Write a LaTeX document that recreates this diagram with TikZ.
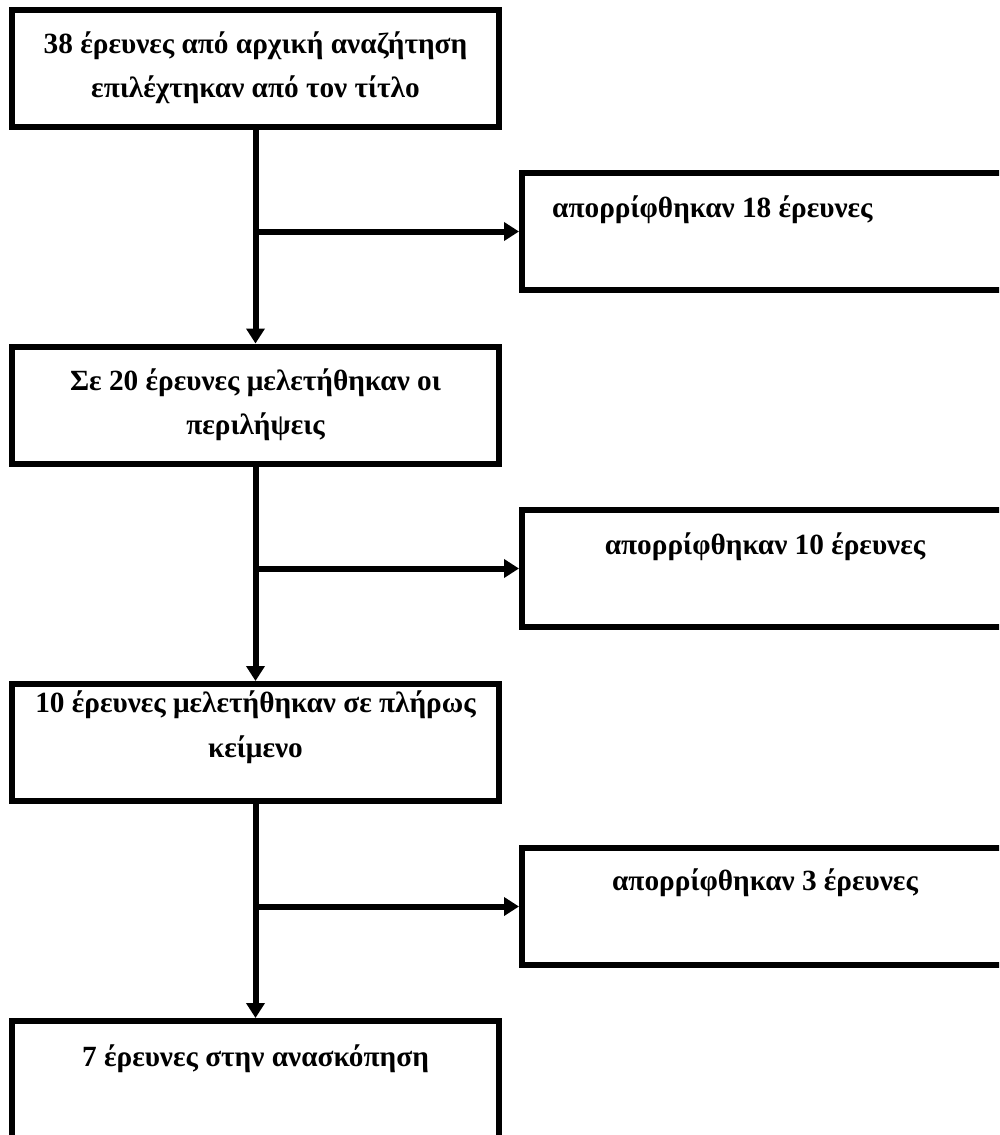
\documentclass[tikz,border=0pt]{standalone}
\usepackage{fontspec}
\setmainfont{Liberation Serif}
\usetikzlibrary{arrows.meta,calc}
\begin{document}
\begin{tikzpicture}[x=1pt,y=-1pt,
  box/.style={draw=black, line width=6pt, fill=white, inner sep=0pt, outer sep=0pt, minimum width=487pt, minimum height=117pt},
  rbox/.style={draw=black, line width=6pt, fill=white, inner sep=0pt, outer sep=0pt, minimum width=490pt, minimum height=117pt},
  txt/.style={font=\fontsize{29.3}{44}\selectfont\bfseries, anchor=base, inner sep=0pt},
  conn/.style={line width=6pt, shorten >=3pt, -{Triangle[length=15pt,width=18pt]}}]
\useasboundingbox (0,0) rectangle (999,1135);
\clip (0,0) rectangle (999,1135);
% left boxes
\node[box] (b1) at (255.5,68.5) {};
\node[box] (b2) at (255.5,405) {};
\node[box] (b3) at (255.5,742.5) {};
\node[box, minimum height=140pt] (b4) at (255.5,1091) {};
% right boxes
\node[rbox] (r1) at (767,231.5) {};
\node[rbox] (r2) at (767,568.5) {};
\node[rbox] (r3) at (767,906.5) {};
% connectors
\draw[conn] (b1.south) -- (b2.north);
\draw[conn] (b2.south) -- (b3.north);
\draw[conn] (b3.south) -- (b4.north);
\draw[conn] (b1.south |- r1.west) -- (r1.west);
\draw[conn] (b2.south |- r2.west) -- (r2.west);
\draw[conn] (b3.south |- r3.west) -- (r3.west);
% texts
\node[txt] (t1a) at (255.5,53) {38 έρευνες από αρχική αναζήτηση};
\node[txt] (t1b) at (255.5,97) {επιλέχτηκαν από τον τίτλο};
\node[txt] (t2a) at (255.5,390) {Σε 20 έρευνες μελετήθηκαν οι};
\node[txt] (t2b) at (255.5,434) {περιλήψεις};
\node[txt] (t3a) at (255.5,712) {10 έρευνες μελετήθηκαν σε πλήρως};
\node[txt] (t3b) at (255.5,757) {κείμενο};
\node[txt] (t4a) at (255.5,1066) {7 έρευνες στην ανασκόπηση};
\node[txt, anchor=base west] (tr1) at (552,217) {απορρίφθηκαν 18 έρευνες};
\node[txt] (tr2) at (765,554) {απορρίφθηκαν 10 έρευνες};
\node[txt] (tr3) at (765,890) {απορρίφθηκαν 3 έρευνες};
\end{tikzpicture}
\end{document}
